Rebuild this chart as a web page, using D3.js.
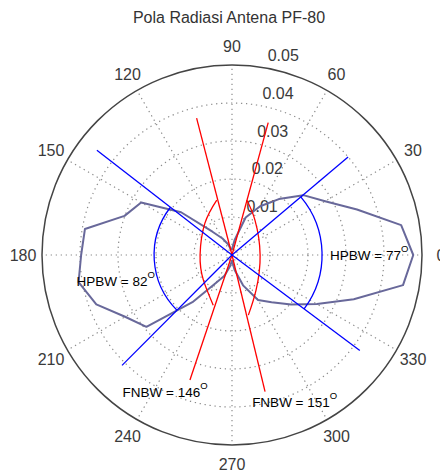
<!DOCTYPE html>
<html>
<head>
<meta charset="utf-8">
<script src="https://cdn.jsdelivr.net/npm/d3@7"></script>
<style>
  body { margin: 0; background: #fff; }
  svg { display: block; font-family: "Liberation Sans", Arial, sans-serif; }
</style>
</head>
<body>
<div id="chart"></div>
<script>
// measured pattern (angle in degrees, magnitude)
const patternAngles = [0, 10, 20, 30, 40, 50, 60, 70, 80, 90, 100, 110, 120, 130, 140, 150, 160, 170,
                       180, 190, 200, 210, 220, 230, 240, 250, 260, 270, 280, 290, 300, 310, 320, 330, 340, 350];
const patternValues = [0.0477, 0.0452, 0.0350, 0.0283, 0.0245, 0.0192, 0.0148, 0.0105, 0.0040, 0.0015,
                       0.0015, 0.0030, 0.0050, 0.0080, 0.0175, 0.0276, 0.0301, 0.0393,
                       0.0397, 0.0410, 0.0380, 0.0325, 0.0294, 0.0162, 0.0085, 0.0058, 0.0030, 0.0015,
                       0.0040, 0.0085, 0.0137, 0.0162, 0.0203, 0.0258, 0.0341, 0.0457];

const ringTicks = [0.01, 0.02, 0.03, 0.04, 0.05];
const spokeAngles = [0, 30, 60, 90, 120, 150, 180, 210, 240, 270, 300, 330];

// HPBW lines (blue) and half-power arcs
const hpbwLineAngles = [40.2, 142.2, 225.1, 323.2];
const hpbwLineLengths = [0.0400, 0.0450, 0.0410, 0.0420];
const hpbwArcs = [
  { from: -36.8, to: 40.2, r: 0.0237 },
  { from: 142.2, to: 225.1, r: 0.0205 }
];

// FNBW lines (red) and their curves
const fnbwLineAngles = [74.7, 104.5, 251.4, 283.6];
const fnbwLineLengths = [0.0361, 0.0372, 0.0347, 0.0370];
const fnbwCurveRight = [[75, 0.0150], [56.7, 0.0110], [0, 0.0074], [-55.6, 0.0112], [-74.8, 0.0164]];
const fnbwCurveLeft = [[105.5, 0.0150], [130.4, 0.0110], [180, 0.0084], [221, 0.0100], [249.5, 0.0141]];

// annotations: data x/y, label
const noteLabels = ["HPBW = 77", "HPBW = 82", "FNBW = 146", "FNBW = 151"];
const noteX = [0.0258, -0.0409, -0.0288, 0.0053];
const noteY = [0.0000, -0.0068, -0.0362, -0.0387];

const W = 440, H = 474;
const cx = 232, cy = 255, R = 190;
const rMax = 0.05;

const svg = d3.select("#chart").append("svg")
    .attr("width", W)
    .attr("height", H);

const g = svg.append("g").attr("transform", `translate(${cx},${cy})`);

const r = d3.scaleLinear().domain([0, rMax]).range([0, R]);
const rad = d => d * Math.PI / 180;
// polar (degrees, ccw from east) -> screen
const px = (deg, v) => r(v) * Math.cos(rad(deg));
const py = (deg, v) => -r(v) * Math.sin(rad(deg));

const radial = d3.lineRadial()
    .angle(d => rad(90 - d[0]))
    .radius(d => r(d[1]));

// --- grid ---
const gridColor = "#8c8c8c";
g.selectAll(".ring")
    .data(ringTicks.slice(0, -1))
    .enter().append("circle")
    .attr("r", d => r(d))
    .attr("fill", "none")
    .attr("stroke", gridColor)
    .attr("stroke-width", 1.2)
    .attr("stroke-dasharray", "1.3 3.7");

g.selectAll(".spoke")
    .data(spokeAngles)
    .enter().append("line")
    .attr("x1", 0).attr("y1", 0)
    .attr("x2", d => px(d, rMax))
    .attr("y2", d => py(d, rMax))
    .attr("stroke", gridColor)
    .attr("stroke-width", 1.2)
    .attr("stroke-dasharray", "1.3 3.7");

g.append("circle")
    .attr("r", r(rMax))
    .attr("fill", "none")
    .attr("stroke", "#444")
    .attr("stroke-width", 1.5);

// ring labels at 82 degrees
g.selectAll(".ring-label")
    .data(ringTicks)
    .enter().append("text")
    .attr("x", d => px(82, d + 0.0005) + 9)
    .attr("y", d => py(82, d + 0.0005) - 3.5)
    .attr("font-size", 16)
    .attr("fill", "#3a3a3a")
    .text(d => d.toFixed(2));

// angle labels
g.selectAll(".angle-label")
    .data(spokeAngles)
    .enter().append("text")
    .attr("x", d => 1.1 * r(rMax) * Math.cos(rad(d)))
    .attr("y", d => -1.1 * r(rMax) * Math.sin(rad(d)))
    .attr("dy", "0.36em")
    .attr("text-anchor", "middle")
    .attr("font-size", 16)
    .attr("fill", "#3a3a3a")
    .text(d => d);

// --- pattern ---
const patternData = patternAngles.map((a, i) => [a, patternValues[i]]);
g.append("path")
    .datum(patternData)
    .attr("d", radial.curve(d3.curveLinearClosed))
    .attr("fill", "none")
    .attr("stroke", "#68689a")
    .attr("stroke-width", 2)
    .attr("stroke-linejoin", "round");

// --- FNBW (red) ---
g.selectAll(".fnbw-line")
    .data(fnbwLineAngles)
    .enter().append("line")
    .attr("x1", 0).attr("y1", 0)
    .attr("x2", (d, i) => px(d, fnbwLineLengths[i]))
    .attr("y2", (d, i) => py(d, fnbwLineLengths[i]))
    .attr("stroke", "#ff0000")
    .attr("stroke-width", 1.3);

[fnbwCurveRight, fnbwCurveLeft].forEach(c => {
    g.append("path")
        .datum(c)
        .attr("d", radial.curve(d3.curveNatural))
        .attr("fill", "none")
        .attr("stroke", "#ff0000")
        .attr("stroke-width", 1.3);
});

// --- HPBW (blue) ---
g.selectAll(".hpbw-line")
    .data(hpbwLineAngles)
    .enter().append("line")
    .attr("x1", 0).attr("y1", 0)
    .attr("x2", (d, i) => px(d, hpbwLineLengths[i]))
    .attr("y2", (d, i) => py(d, hpbwLineLengths[i]))
    .attr("stroke", "#0000ff")
    .attr("stroke-width", 1.3);

hpbwArcs.forEach(a => {
    const p = d3.path();
    // svg angles run clockwise, so negate
    p.arc(0, 0, r(a.r), rad(-a.from), rad(-a.to), true);
    g.append("path")
        .attr("d", p.toString())
        .attr("fill", "none")
        .attr("stroke", "#0000ff")
        .attr("stroke-width", 1.3);
});

// --- annotations ---
noteLabels.forEach((label, i) => {
    const t = g.append("text")
        .attr("x", r(noteX[i]))
        .attr("y", -r(noteY[i]))
        .attr("dy", "0.36em")
        .attr("font-size", 13.5)
        .attr("fill", "#000")
        .text(label);
    t.append("tspan")
        .attr("dy", -8)
        .attr("font-size", 9.5)
        .text("O");
});

// --- title ---
svg.append("text")
    .attr("x", 229)
    .attr("y", 23)
    .attr("text-anchor", "middle")
    .attr("font-size", 16)
    .attr("fill", "#333")
    .text("Pola Radiasi Antena PF-80");
</script>
</body>
</html>
